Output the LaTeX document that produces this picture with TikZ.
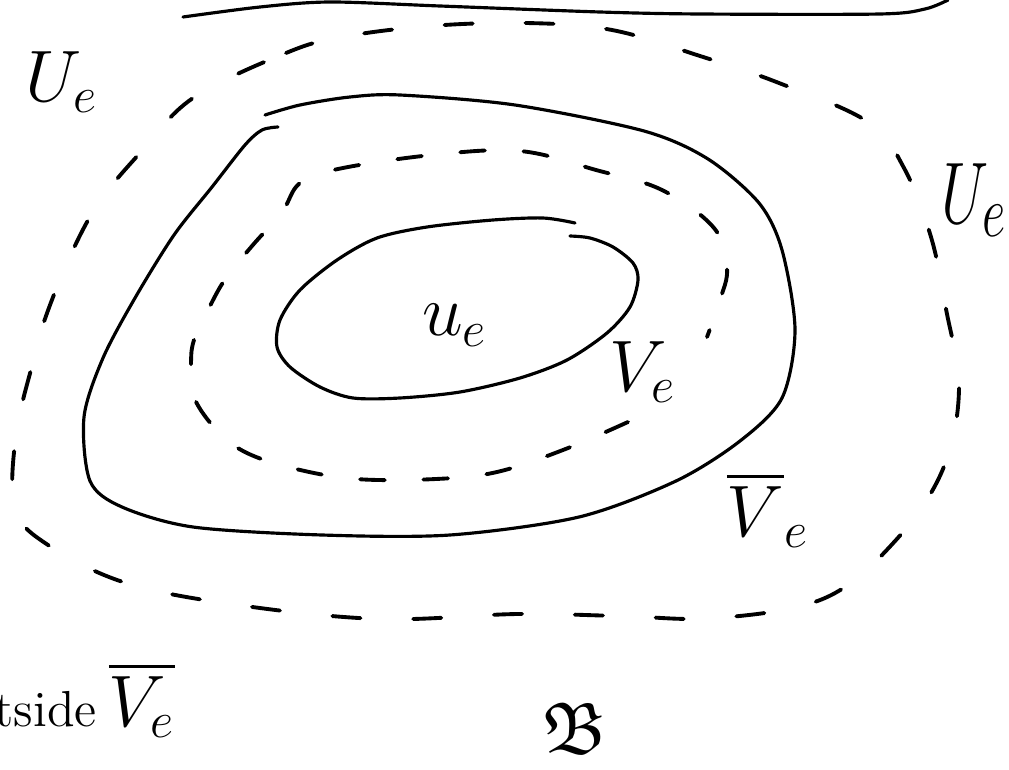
\documentclass[tikz,border=0pt]{standalone}
\usepackage{amsmath, amssymb}
\usepackage{tikz}
\usetikzlibrary{calc, positioning}

\begin{document}
\begin{tikzpicture}[x=0.01cm, y=-0.01cm, line cap=round, line join=round]

    % =================================================================
    % 0. STYLES AND FRAME
    % =================================================================
    \tikzset{
        contour/.style={line width=0.9pt},
        dashcontour/.style={line width=1.1pt, dash pattern=on 8pt off 15pt},
        innerdash/.style={line width=1.1pt, dash pattern=on 7pt off 11pt},
        lbl/.style={inner sep=0pt, font=\huge}
    }
    \useasboundingbox (0,0) rectangle (1009,770);

    % =================================================================
    % 1. TOP LINE
    % =================================================================
    \draw[contour] plot[smooth] coordinates {(183,17) (260,7) (330,2) (440,6)
        (600,12) (700,14) (880,14) (925,9) (948,0)};

    % =================================================================
    % 2. OUTER DASHED CURVE
    % =================================================================
    \draw[dashcontour] plot[smooth cycle, tension=0.6] coordinates {
        (193,98) (286,53) (342,37) (430,26) (526,23) (612,30) (700,56)
        (779,83) (868,122) (904,168) (931,237) (946,309) (959,389)
        (943,469) (896,540) (825,598) (718,618) (620,616) (518,614)
        (380,619) (238,605) (126,583) (48,545) (15,508) (16,435)
        (33,362) (46,316) (72,252) (100,201) (140,153)};

    % =================================================================
    % 3. MIDDLE SOLID CURVE (closure of V_e)
    % =================================================================
    \draw[contour] plot[smooth] coordinates {(265,115) (300,105) (350,97)
        (400,95) (515,105) (644,131) (708,159) (759,203) (782,250)
        (795,330) (782,398) (740,441) (676,481) (579,517) (450,535)
        (322,535) (193,527) (122,507) (90,481) (84,417) (103,358)
        (135,298) (174,235) (212,187) (245,145) (262,130) (278,127)};

    % =================================================================
    % 4. INNER DASHED CURVE (V_e)
    % =================================================================
    \draw[innerdash] plot[smooth, tension=0.6] coordinates {(628,422)
        (563,450) (497,472) (436,479) (356,479) (292,468) (243,451)
        (213,426) (193,395) (191,365) (194,340) (210,306) (226,278)
        (252,246) (282,212) (300,183) (338,169) (432,155) (520,151)
        (596,170) (662,190) (714,228) (727,268) (720,300) (707,337)};

    % =================================================================
    % 5. INNER SOLID CURVE
    % =================================================================
    \draw[contour] plot[smooth] coordinates {(575,223) (543,218) (493,220)
        (427,227) (377,238) (337,260) (300,290) (280,320) (277,347)
        (290,367) (320,387) (353,398) (400,398) (460,392) (520,378)
        (567,360) (607,333) (630,307) (638,280) (633,263) (613,247)
        (590,238) (570,236)};

    % =================================================================
    % 6. LABELS
    % =================================================================
    \node[lbl] (Uleft) at (62,82) {$U_e$};
    \node[lbl, font=\Huge, xscale=0.7] (Uright) at (974,200) {$U_e$};
    \node[lbl] (uin) at (455,325) {$u_e$};
    \node[lbl] (Vin) at (643,372) {$V_e$};
    \node[lbl] (Vbar) at (768,510) {$\overline{V}_e$};
    \node[lbl, anchor=east] (outside) at (176,700)
        {{\Large outside}\,$\overline{V_e}$};
    \node[lbl] (frakB) at (575,728) {$\mathfrak{B}$};

\end{tikzpicture}
\end{document}
